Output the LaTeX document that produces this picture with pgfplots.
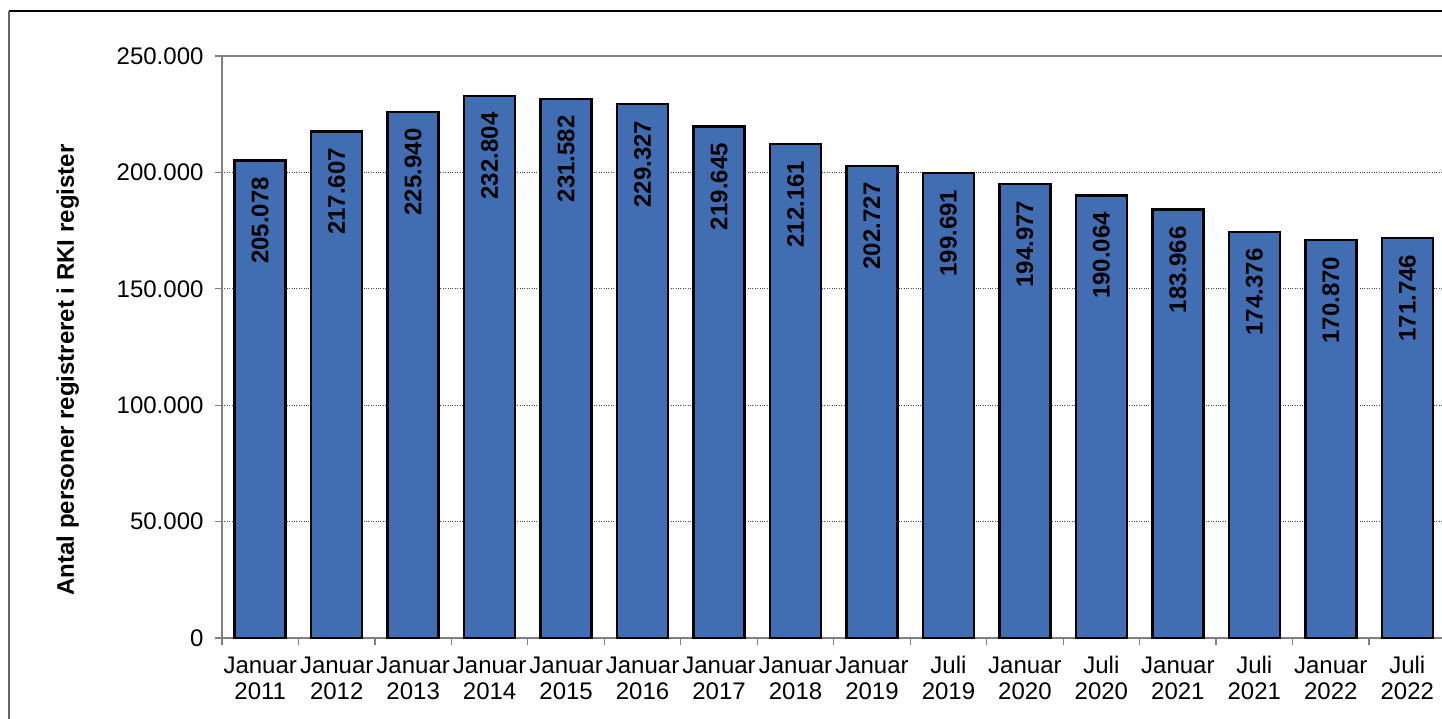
\documentclass[border=0pt]{standalone}
\usepackage{pgfplots}
\pgfplotsset{compat=1.18}
\usepackage{fontspec}
\setmainfont{Liberation Sans}
\definecolor{barblue}{RGB}{65,109,178}
\definecolor{axgray}{RGB}{128,128,128}
\newcommand{\chartfont}{\fontsize{24}{26}\selectfont}

\begin{document}
\begin{tikzpicture}
% page = reference image, origin at the lower-left corner of the plot area
\clip (-222pt,-80pt) rectangle (1220pt,638pt);
\draw[black, line width=1.5pt] (-213pt,627pt) -- (1230pt,627pt);
\draw[black!60, line width=1.2pt] (-213pt,627pt) -- (-213pt,-90pt);

\begin{axis}[
    at={(0pt,0pt)}, anchor=south west,
    scale only axis,
    width=1223.5pt, height=582pt,
    ybar, bar width=51pt,
    xmin=-0.5, xmax=15.5,
    ymin=0, ymax=250000,
    xtick={0,...,15},
    major x tick style={draw=none},
    minor xtick={-0.5,0.5,...,15.5},
    minor x tick style={axgray, line width=1.2pt},
    minor tick length=7pt,
    xticklabels={{\strut Januar\\2011},{\strut Januar\\2012},{\strut Januar\\2013},{\strut Januar\\2014},
      {\strut Januar\\2015},{\strut Januar\\2016},{\strut Januar\\2017},{\strut Januar\\2018},{\strut Januar\\2019},
      {\strut Juli\\2019},{\strut Januar\\2020},{\strut Juli\\2020},{\strut Januar\\2021},{\strut Juli\\2021},
      {\strut Januar\\2022},{\strut Juli\\2022}},
    xticklabel style={align=center, font=\chartfont, yshift=-7pt},
    ytick={0,50000,...,250000},
    major y tick style={axgray, line width=1.2pt},
    major tick length=7pt,
    tick align=outside,
    tick pos=left,
    scaled y ticks=false,
    yticklabel style={font=\chartfont, xshift=-8pt},
    /pgf/number format/.cd, fixed, precision=0, 1000 sep={.}, assume math mode=true,
    /pgfplots/.cd,
    ymajorgrids,
    grid style={black!70, dotted, line width=0.7pt},
    axis line style={axgray, line width=2pt},
    ylabel={\bfseries Antal personer registreret i RKI register},
    ylabel style={font=\chartfont, at={(axis description cs:-0.126,0.4605)}, anchor=center},
    nodes near coords,
    every node near coord/.append style={font=\chartfont\bfseries, black,
      yshift=-12pt, rotate=90, anchor=east},
]
\addplot[fill=barblue, draw=black, line width=2.5pt] coordinates {
  (0,205078) (1,217607) (2,225940) (3,232804) (4,231582) (5,229327)
  (6,219645) (7,212161) (8,202727) (9,199691) (10,194977) (11,190064)
  (12,183966) (13,174376) (14,170870) (15,171746)
};
\end{axis}
\end{tikzpicture}
\end{document}
